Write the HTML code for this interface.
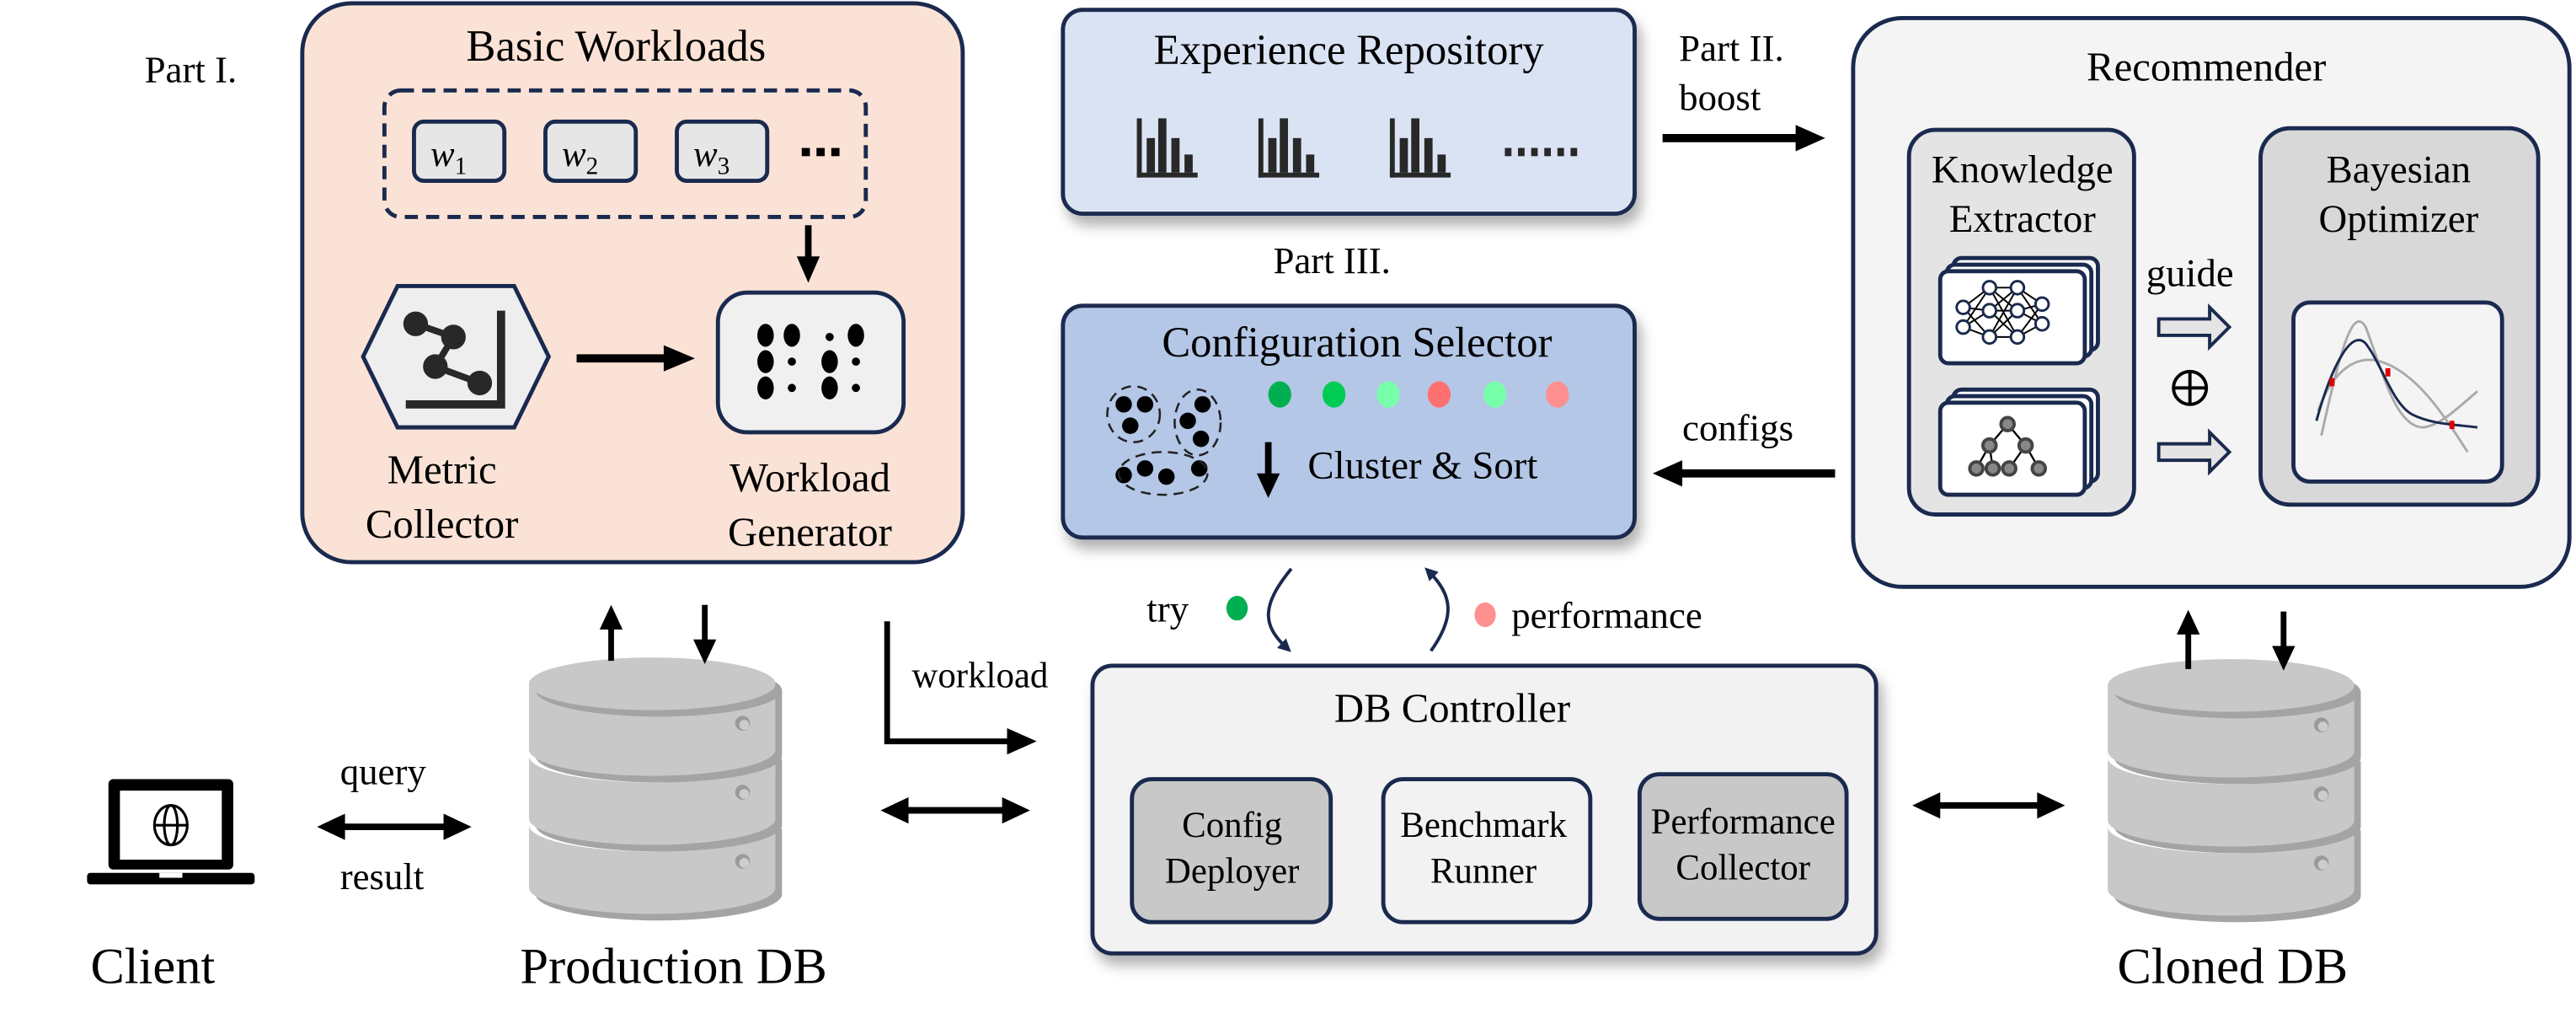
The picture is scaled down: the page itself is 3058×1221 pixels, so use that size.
<!DOCTYPE html>
<html><head><meta charset="utf-8"><style>
html,body{margin:0;padding:0;background:#fff;}
svg{display:block;}
text{font-family:"Liberation Serif","Times New Roman","DejaVu Serif",serif;fill:#000;}
</style></head><body>
<svg width="3058" height="1221" viewBox="0 0 1568 626" preserveAspectRatio="none" xmlns="http://www.w3.org/2000/svg" font-family="Liberation Serif, Times New Roman, serif" style="font-family:'Liberation Serif','Times New Roman',serif">
<defs>
<filter id="sh" x="-10%" y="-10%" width="130%" height="140%"><feDropShadow dx="3" dy="6" stdDeviation="4" flood-color="#000" flood-opacity="0.3"/></filter>
<marker id="ah" markerWidth="8" markerHeight="8" refX="4" refY="4" orient="auto" markerUnits="userSpaceOnUse"><path d="M0,0 L8,4 L0,8 z" fill="#1a2a4f"/></marker>
<g id="seg">
 <path d="M4,4 h150 v40 a75,16 0 0 1 -150,0 z" fill="#a4a4a4"/>
 <path d="M0,0 h150 v40 a75,16 0 0 1 -150,0 z" fill="#c8c8c8"/>
 <circle cx="130" cy="24" r="4.5" fill="#9a9a9a"/><circle cx="131" cy="25" r="3" fill="#fff" opacity="0.5"/>
</g>
<g id="cyl">
 <use href="#seg" x="0" y="512"/>
 <path d="M0,508 a75,16 0 0 0 150,0 v6 a75,16 0 0 1 -150,0 z" fill="#fff"/>
 <use href="#seg" x="0" y="470"/>
 <path d="M0,466 a75,16 0 0 0 150,0 v6 a75,16 0 0 1 -150,0 z" fill="#fff"/>
 <use href="#seg" x="0" y="428"/>
 <ellipse cx="79" cy="432" rx="75" ry="16" fill="#a4a4a4"/>
 <ellipse cx="75" cy="428" rx="75" ry="16" fill="#c8c8c8"/>
</g>
</defs>

<!-- Part I -->
<text x="88" y="50" font-size="23">Part I.</text>
<rect x="184" y="2" width="402" height="340" rx="30" fill="#FAE3D6" stroke="#1a2a4f" stroke-width="2.5"/>
<text x="375" y="37" font-size="27" text-anchor="middle">Basic Workloads</text>
<rect x="234" y="55" width="293" height="77" rx="10" fill="none" stroke="#1a2a4f" stroke-width="2.5" stroke-dasharray="8,5"/>
<g stroke="#1a2a4f" stroke-width="2.5" fill="#e6e6e6">
<rect x="252" y="74" width="55" height="36" rx="6"/><rect x="332" y="74" width="55" height="36" rx="6"/><rect x="412" y="74" width="55" height="36" rx="6"/></g>
<g font-size="22" font-style="italic" fill="#333"><text x="262" y="101">w<tspan font-size="15" dy="5" font-style="normal">1</tspan></text>
<text x="342" y="101">w<tspan font-size="15" dy="5" font-style="normal">2</tspan></text>
<text x="422" y="101">w<tspan font-size="15" dy="5" font-style="normal">3</tspan></text></g>
<g fill="#000"><rect x="488" y="90" width="5" height="5"/><rect x="497" y="90" width="5" height="5"/><rect x="506" y="90" width="5" height="5"/></g>
<line x1="492" y1="137" x2="492" y2="158" stroke="#000" stroke-width="4"/><path d="M485,156 L499,156 L492,172 z"/>
<polygon points="242,174 313,174 334,217 313,260 242,260 221,217" fill="#eee" stroke="#1a2a4f" stroke-width="2.5"/>
<g stroke="#282828" stroke-width="4" fill="#282828"><polyline points="253,197 276,205 265,223 292,233" fill="none"/>
<circle cx="253" cy="197" r="5.5"/><circle cx="276" cy="205" r="5.5"/><circle cx="265" cy="223" r="5.5"/><circle cx="292" cy="233" r="5.5"/>
<polyline points="305,189 305,246 247,246" fill="none" stroke-width="5"/></g>
<line x1="351" y1="218" x2="406" y2="218" stroke="#000" stroke-width="5"/><path d="M404,210 L423,218 L404,226 z"/>
<rect x="437" y="178" width="113" height="85" rx="18" fill="#f0f0f0" stroke="#1a2a4f" stroke-width="2.5"/>
<g fill="#000"><ellipse cx="466" cy="204" rx="5" ry="7"/><ellipse cx="482" cy="204" rx="5" ry="7"/><circle cx="505" cy="205" r="2.5"/><ellipse cx="521" cy="204" rx="5" ry="7"/>
<ellipse cx="466" cy="220" rx="5" ry="7"/><circle cx="482" cy="220" r="2.5"/><ellipse cx="505" cy="220" rx="5" ry="7"/><circle cx="521" cy="220" r="2.5"/>
<ellipse cx="466" cy="236" rx="5" ry="7"/><circle cx="482" cy="236" r="2.5"/><ellipse cx="505" cy="236" rx="5" ry="7"/><circle cx="521" cy="236" r="2.5"/></g>
<text x="269" y="294" font-size="25" text-anchor="middle">Metric</text>
<text x="269" y="327" font-size="25" text-anchor="middle">Collector</text>
<text x="493" y="299" font-size="25" text-anchor="middle">Workload</text>
<text x="493" y="332" font-size="25" text-anchor="middle">Generator</text>

<!-- Experience Repository -->
<rect x="647" y="6" width="348" height="124" rx="12" fill="#DAE3F3" stroke="#1a2a4f" stroke-width="2.5" filter="url(#sh)"/>
<text x="821" y="39" font-size="26" text-anchor="middle">Experience Repository</text>
<g fill="#282828">
<g transform="translate(692,72)"><rect x="0" y="0" width="3" height="36"/><rect x="0" y="33" width="37" height="3"/><rect x="6" y="12" width="5" height="21"/><rect x="13" y="0" width="5" height="33"/><rect x="21" y="12" width="5" height="21"/><rect x="29" y="22" width="5" height="11"/></g>
<g transform="translate(766,72)"><rect x="0" y="0" width="3" height="36"/><rect x="0" y="33" width="37" height="3"/><rect x="6" y="12" width="5" height="21"/><rect x="13" y="0" width="5" height="33"/><rect x="21" y="12" width="5" height="21"/><rect x="29" y="22" width="5" height="11"/></g>
<g transform="translate(846,72)"><rect x="0" y="0" width="3" height="36"/><rect x="0" y="33" width="37" height="3"/><rect x="6" y="12" width="5" height="21"/><rect x="13" y="0" width="5" height="33"/><rect x="21" y="12" width="5" height="21"/><rect x="29" y="22" width="5" height="11"/></g>
<rect x="916" y="90" width="4" height="5"/><rect x="924" y="90" width="4" height="5"/><rect x="932" y="90" width="4" height="5"/><rect x="940" y="90" width="4" height="5"/><rect x="948" y="90" width="4" height="5"/><rect x="956" y="90" width="4" height="5"/></g>
<text x="1022" y="37" font-size="23">Part II.</text>
<text x="1022" y="67" font-size="23">boost</text>
<line x1="1012" y1="84" x2="1094" y2="84" stroke="#000" stroke-width="5"/><path d="M1093,76 L1111,84 L1093,92 z"/>

<text x="775" y="166" font-size="23">Part III.</text>
<rect x="647" y="186" width="348" height="141" rx="12" fill="#B4C7E7" stroke="#1a2a4f" stroke-width="2.5" filter="url(#sh)"/>
<text x="826" y="217" font-size="26" text-anchor="middle">Configuration Selector</text>
<ellipse cx="779" cy="240" rx="7" ry="8" fill="#00b050"/><ellipse cx="812" cy="240" rx="7" ry="8" fill="#00cc55"/><ellipse cx="845" cy="240" rx="7" ry="8" fill="#77ffaa"/>
<ellipse cx="876" cy="240" rx="7" ry="8" fill="#ff7070"/><ellipse cx="910" cy="240" rx="7" ry="8" fill="#77ffaa"/><ellipse cx="948" cy="240" rx="7" ry="8" fill="#ff9090"/>
<g fill="#000"><circle cx="684" cy="246" r="5"/><circle cx="697" cy="246" r="5"/><circle cx="688" cy="259" r="5"/>
<circle cx="732" cy="246" r="5"/><circle cx="723" cy="256" r="5"/><circle cx="731" cy="267" r="5"/>
<circle cx="684" cy="289" r="5"/><circle cx="697" cy="285" r="5"/><circle cx="710" cy="290" r="5"/><circle cx="730" cy="285" r="5"/></g>
<g fill="none" stroke="#222" stroke-width="1.3" stroke-dasharray="6,4">
<ellipse cx="690" cy="252" rx="16" ry="17"/><ellipse cx="729" cy="257" rx="14" ry="20"/><ellipse cx="708" cy="288" rx="27" ry="13"/></g>
<line x1="772" y1="269" x2="772" y2="290" stroke="#000" stroke-width="4"/><path d="M765,288 L779,288 L772,303 z"/>
<text x="796" y="291" font-size="24">Cluster &amp; Sort</text>

<text x="1024" y="268" font-size="23">configs</text>
<line x1="1117" y1="288" x2="1022" y2="288" stroke="#000" stroke-width="5"/><path d="M1024,280 L1006,288 L1024,296 z"/>

<!-- Recommender -->
<rect x="1128" y="11" width="436" height="346" rx="30" fill="#f4f4f4" stroke="#1a2a4f" stroke-width="2.5"/>
<text x="1343" y="49" font-size="25" text-anchor="middle">Recommender</text>
<rect x="1162" y="79" width="137" height="234" rx="16" fill="#e4e4e4" stroke="#1a2a4f" stroke-width="2.5"/>
<text x="1231" y="111" font-size="24" text-anchor="middle">Knowledge</text>
<text x="1231" y="141" font-size="24" text-anchor="middle">Extractor</text>
<g stroke="#1a2a4f" stroke-width="2.5" fill="#fff">
<rect x="1189" y="157" width="88" height="56" rx="5"/><rect x="1185" y="161" width="88" height="56" rx="5"/><rect x="1181" y="165" width="88" height="56" rx="5"/>
<rect x="1189" y="237" width="88" height="56" rx="5"/><rect x="1185" y="241" width="88" height="56" rx="5"/><rect x="1181" y="245" width="88" height="56" rx="5"/></g>
<g stroke="#000" stroke-width="1" fill="none">
<path d="M1195,187 L1211,175 M1195,187 L1211,189 M1195,187 L1211,205 M1195,199 L1211,175 M1195,199 L1211,189 M1195,199 L1211,205 M1211,175 L1228,175 M1211,175 L1228,189 M1211,175 L1228,205 M1211,189 L1228,175 M1211,189 L1228,189 M1211,189 L1228,205 M1211,205 L1228,175 M1211,205 L1228,189 M1211,205 L1228,205 M1228,175 L1243,185 M1228,175 L1243,197 M1228,189 L1243,185 M1228,189 L1243,197 M1228,205 L1243,185 M1228,205 L1243,197"/></g>
<g stroke="#1a2a4f" stroke-width="1.5" fill="#fff">
<circle cx="1195" cy="187" r="4"/><circle cx="1195" cy="199" r="4"/><circle cx="1211" cy="175" r="4"/><circle cx="1211" cy="189" r="4"/><circle cx="1211" cy="205" r="4"/>
<circle cx="1228" cy="175" r="4"/><circle cx="1228" cy="189" r="4"/><circle cx="1228" cy="205" r="4"/><circle cx="1243" cy="185" r="4"/><circle cx="1243" cy="197" r="4"/></g>
<g stroke="#000" stroke-width="1.2"><path d="M1222,258 L1211,271 M1222,258 L1233,271 M1211,271 L1203,285 M1211,271 L1213,285 M1233,271 L1223,285 M1233,271 L1241,285"/></g>
<g fill="#888" stroke="#444" stroke-width="2"><circle cx="1222" cy="258" r="4"/><circle cx="1211" cy="271" r="4"/><circle cx="1233" cy="271" r="4"/>
<circle cx="1203" cy="285" r="4"/><circle cx="1213" cy="285" r="4"/><circle cx="1223" cy="285" r="4"/><circle cx="1241" cy="285" r="4"/></g>
<text x="1333" y="174" font-size="24" text-anchor="middle">guide</text>
<g fill="#e4e4e4" stroke="#1a2a4f" stroke-width="2"><path d="M1314,194 h31 v-7 l12,12 l-12,12 v-7 h-31 z"/><path d="M1314,270 h31 v-7 l12,12 l-12,12 v-7 h-31 z"/></g>
<circle cx="1333" cy="236" r="10" fill="none" stroke="#000" stroke-width="2"/><path d="M1323,236 h20 M1333,226 v20" stroke="#000" stroke-width="2"/>
<rect x="1376" y="78" width="169" height="229" rx="18" fill="#d8d8d8" stroke="#1a2a4f" stroke-width="2.5"/>
<text x="1460" y="111" font-size="24" text-anchor="middle">Bayesian</text>
<text x="1460" y="141" font-size="24" text-anchor="middle">Optimizer</text>
<rect x="1396" y="184" width="127" height="109" rx="10" fill="#f4f4f4" stroke="#1a2a4f" stroke-width="2.5"/>
<g fill="none" stroke-width="1.5">
<path d="M1413,265 C1424,215 1432,185 1440,199 C1450,225 1458,260 1475,260 C1484,259 1492,252 1508,238" stroke="#aaa"/>
<path d="M1411,250 C1420,225 1435,214 1452,221 C1470,228 1485,248 1502,275" stroke="#aaa"/>
<path d="M1410,256 C1420,220 1432,200 1440,209 C1450,222 1456,245 1468,252 C1480,258 1492,258 1508,260" stroke="#1a2a4f"/></g>
<g fill="#d00"><rect x="1418" y="230" width="3" height="5"/><rect x="1452" y="224" width="3" height="5"/><rect x="1491" y="256" width="3" height="5"/></g>

<!-- try / performance -->
<text x="698" y="378" font-size="23">try</text>
<ellipse cx="753" cy="370" rx="6.5" ry="7.5" fill="#00b050"/>
<path d="M786,346 C768,368 768,380 783,394" fill="none" stroke="#1a2a4f" stroke-width="2" marker-end="url(#ah)"/>
<path d="M871,396 C886,375 884,362 870,348" fill="none" stroke="#1a2a4f" stroke-width="2" marker-end="url(#ah)"/>
<ellipse cx="904" cy="374" rx="6.5" ry="7.5" fill="#ff9090"/>
<text x="920" y="382" font-size="23">performance</text>

<!-- DB controller -->
<rect x="665" y="405" width="477" height="175" rx="12" fill="#f2f2f2" stroke="#1a2a4f" stroke-width="2.5" filter="url(#sh)"/>
<text x="884" y="439" font-size="25" text-anchor="middle">DB Controller</text>
<rect x="689" y="474" width="121" height="87" rx="12" fill="#c8c8c8" stroke="#1a2a4f" stroke-width="2.5"/>
<rect x="842" y="474" width="126" height="87" rx="12" fill="#f2f2f2" stroke="#1a2a4f" stroke-width="2.5"/>
<rect x="998" y="471" width="126" height="88" rx="12" fill="#c8c8c8" stroke="#1a2a4f" stroke-width="2.5"/>
<text x="750" y="509" font-size="22" text-anchor="middle">Config</text><text x="750" y="537" font-size="22" text-anchor="middle">Deployer</text>
<text x="903" y="509" font-size="22" text-anchor="middle">Benchmark</text><text x="903" y="537" font-size="22" text-anchor="middle">Runner</text>
<text x="1061" y="507" font-size="22" text-anchor="middle">Performance</text><text x="1061" y="535" font-size="22" text-anchor="middle">Collector</text>

<!-- workload -->
<text x="555" y="418" font-size="22">workload</text>
<path d="M540,378 V451 H614" fill="none" stroke="#000" stroke-width="3.5"/><path d="M613,443 L631,451 L613,459 z"/>

<!-- DBs -->
<use href="#cyl" x="322" y="-12"/>
<use href="#cyl" x="1283" y="-11"/>
<text x="410" y="598" font-size="31" text-anchor="middle">Production DB</text>
<text x="1359" y="598" font-size="31" text-anchor="middle">Cloned DB</text>
<text x="93" y="598" font-size="31" text-anchor="middle">Client</text>

<g stroke="#000" stroke-width="3.5"><line x1="372" y1="402" x2="372" y2="380"/><line x1="429" y1="368" x2="429" y2="390"/>
<line x1="1332" y1="407" x2="1332" y2="384"/><line x1="1390" y1="372" x2="1390" y2="395"/></g>
<path d="M365,383 L379,383 L372,368 z"/><path d="M422,389 L436,389 L429,404 z"/>
<path d="M1325,386 L1339,386 L1332,371 z"/><path d="M1383,393 L1397,393 L1390,408 z"/>

<!-- laptop -->
<rect x="66" y="474" width="76" height="55" rx="3" fill="#000"/><rect x="73" y="481" width="62" height="42" fill="#fff"/>
<rect x="53" y="531" width="102" height="7" rx="2" fill="#000"/><rect x="97" y="531" width="14" height="3" fill="#fff"/>
<g fill="none" stroke="#000" stroke-width="1.6"><ellipse cx="104" cy="502" rx="10" ry="12"/><ellipse cx="104" cy="502" rx="4" ry="12"/><line x1="94" y1="502" x2="114" y2="502"/></g>

<text x="207" y="477" font-size="23">query</text>
<text x="207" y="541" font-size="23">result</text>
<g stroke="#000" stroke-width="4"><line x1="205" y1="503" x2="275" y2="503"/><line x1="548" y1="493" x2="615" y2="493"/><line x1="1176" y1="490" x2="1245" y2="490"/></g>
<path d="M210,495 L193,503 L210,511 z M270,495 L287,503 L270,511 z"/>
<path d="M553,485 L536,493 L553,501 z M610,485 L627,493 L610,501 z"/>
<path d="M1181,482 L1164,490 L1181,498 z M1240,482 L1257,490 L1240,498 z"/>
</svg>
</body></html>
